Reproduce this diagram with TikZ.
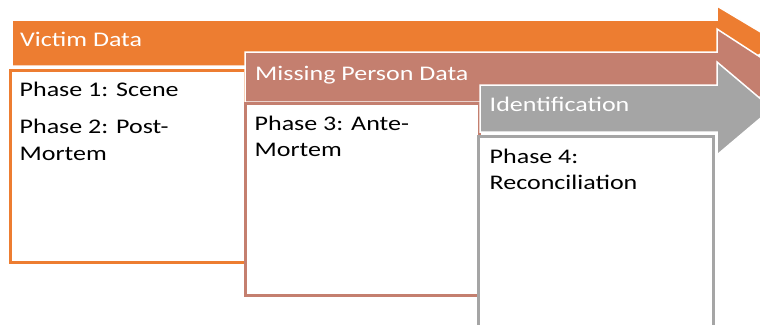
\documentclass[tikz,border=0pt]{standalone}
\usepackage{fontspec}
\setmainfont{Carlito}[FakeStretch=1.25]
\definecolor{vorange}{HTML}{ED7D31}
\definecolor{mbrown}{HTML}{C47F6F}
\definecolor{idgray}{HTML}{A5A5A5}
\tikzset{
  arrowshape/.style={draw=white, line width=1.5pt, line join=miter},
  phasebox/.style={fill=white, line width=3pt},
  headtext/.style={anchor=base west, inner sep=0pt, text=white, font=\fontsize{20.8}{26.7}\selectfont},
  bodytext/.style={anchor=base west, inner sep=0pt, text=black, font=\fontsize{20.8}{26.7}\selectfont}
}
\begin{document}
\begin{tikzpicture}[x=1pt,y=-1pt]
\useasboundingbox (0,0) rectangle (760,324);
\clip (0,0) rectangle (760,324);
% Victim Data arrow and box
\fill[vorange, arrowshape] (12,20) -- (717,20) -- (717,6) -- (779,43) -- (717,80) -- (717,66) -- (12,66) -- cycle;
\draw[phasebox, draw=vorange] (10,70) rectangle (245,262);
\node[headtext] (victim) at (20,46) {Victim Data};
\node[bodytext] (p1) at (19.5,96.7) {Phase 1: Scene};
\node[bodytext] (p2) at (19.5,133.3) {Phase 2: Post-};
\node[bodytext] (p2b) at (19.5,160) {Mortem};
% Missing Person Data arrow and box
\fill[mbrown, arrowshape] (245,52) -- (717,52) -- (717,29) -- (791,77) -- (717,125) -- (717,102) -- (245,102) -- cycle;
\draw[phasebox, draw=mbrown] (245,103) rectangle (479,295);
\node[headtext] (missing) at (255,80) {Missing Person Data};
\node[bodytext] (p3) at (254.5,130) {Phase 3: Ante-};
\node[bodytext] (p3b) at (254.5,156.7) {Mortem};
% Identification arrow and box
\fill[idgray, arrowshape] (480,85) -- (717,85) -- (717,62) -- (772,108.5) -- (717,155) -- (717,132) -- (480,132) -- cycle;
\draw[phasebox, draw=idgray] (478,136) rectangle (713,345);
\node[headtext] (ident) at (489.5,111.7) {Identification};
\node[bodytext] (p4) at (489.5,163) {Phase 4:};
\node[bodytext] (p4b) at (489.5,189.7) {Reconciliation};
\end{tikzpicture}
\end{document}
